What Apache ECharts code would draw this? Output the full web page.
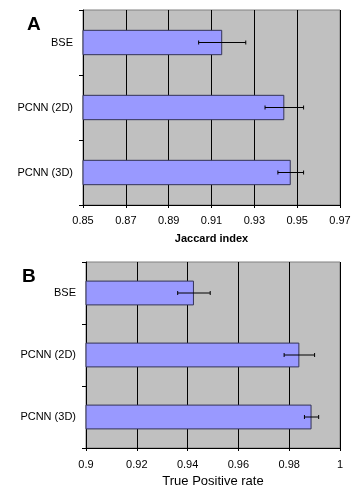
<!DOCTYPE html>
<html>
<head>
<meta charset="utf-8">
<script src="https://cdn.jsdelivr.net/npm/echarts@6/dist/echarts.min.js"></script>
<style>
  html, body { margin: 0; padding: 0; background: #fff; }
  #chart { width: 364px; height: 489px; }
</style>
</head>
<body>
<div id="chart"></div>
<script>
const categories = ['BSE', 'PCNN (2D)', 'PCNN (3D)']

// panel A: Jaccard index
const jaccardMean = [0.915, 0.944, 0.947]
const jaccardErr = [0.011, 0.009, 0.006]
const jaccardTicks = [0.85, 0.97, 0.02]

// panel B: True Positive rate
const tprMean = [0.9425, 0.984, 0.9888]
const tprErr = [0.0064, 0.006, 0.0028]
const tprTicks = [0.9, 1.0, 0.02]

const font = 'Liberation Sans, Arial, sans-serif'

function errorData(mean, err) {
  return mean.map((m, i) => [i, m - err[i], m + err[i]])
}

function renderError(params, api) {
  const cat = api.value(0)
  const lo = api.coord([api.value(1), cat])
  const hi = api.coord([api.value(2), cat])
  const cap = 2
  const style = { stroke: '#000', lineWidth: 1 }
  return {
    type: 'group',
    children: [
      { type: 'line', shape: { x1: lo[0], y1: lo[1], x2: hi[0], y2: hi[1] }, style },
      { type: 'line', shape: { x1: lo[0], y1: lo[1] - cap, x2: lo[0], y2: lo[1] + cap }, style },
      { type: 'line', shape: { x1: hi[0], y1: hi[1] - cap, x2: hi[0], y2: hi[1] + cap }, style }
    ]
  }
}

function valueAxis(idx, ticks, name, nameStyle, margin, gap) {
  return {
    type: 'value',
    gridIndex: idx,
    min: ticks[0],
    max: ticks[1],
    interval: ticks[2],
    name: name,
    nameLocation: 'middle',
    nameGap: gap,
    nameTextStyle: nameStyle,
    axisLine: { show: true, lineStyle: { color: '#000', width: 1 } },
    axisTick: { show: true, length: 3, lineStyle: { color: '#000' } },
    axisLabel: {
      color: '#000', fontFamily: font, fontSize: 11, margin: margin,
      formatter: v => String(Math.round(v * 100) / 100)
    },
    splitLine: { show: true, lineStyle: { color: '#000', width: 1 } }
  }
}

function catAxis(idx) {
  return {
    type: 'category',
    gridIndex: idx,
    data: categories,
    inverse: true,
    axisLine: { show: true, lineStyle: { color: '#000', width: 1 } },
    axisTick: { show: true, length: 4, lineStyle: { color: '#000' } },
    axisLabel: { color: '#000', fontFamily: font, fontSize: 11, margin: 10 }
  }
}

const barStyle = { color: '#9999FF', borderColor: '#333355', borderWidth: 1 }

const chart = echarts.init(document.getElementById('chart'))
chart.setOption({
  animation: false,
  backgroundColor: '#fff',
  title: [
    { text: 'A', left: 22, top: 10, textStyle: { fontFamily: font, fontSize: 19, fontWeight: 'bold', color: '#000' } },
    { text: 'B', left: 17, top: 262, textStyle: { fontFamily: font, fontSize: 19, fontWeight: 'bold', color: '#000' } }
  ],
  grid: [
    { left: 83, right: 24, top: 10, bottom: 284, show: true, backgroundColor: '#C0C0C0', borderColor: '#808080', borderWidth: 1 },
    { left: 86, right: 24, top: 262, bottom: 39, show: true, backgroundColor: '#C0C0C0', borderColor: '#808080', borderWidth: 1 }
  ],
  xAxis: [
    valueAxis(0, jaccardTicks, 'Jaccard index', { color: '#000', fontFamily: font, fontSize: 11, fontWeight: 'bold' }, 10, 28),
    valueAxis(1, tprTicks, 'True Positive rate', { color: '#000', fontFamily: font, fontSize: 13 }, 11, 27)
  ],
  yAxis: [catAxis(0), catAxis(1)],
  series: [
    { type: 'bar', xAxisIndex: 0, yAxisIndex: 0, data: jaccardMean, barWidth: '39%', itemStyle: barStyle },
    { type: 'custom', xAxisIndex: 0, yAxisIndex: 0, data: errorData(jaccardMean, jaccardErr), renderItem: renderError, encode: { x: [1, 2], y: 0 }, z: 5 },
    { type: 'bar', xAxisIndex: 1, yAxisIndex: 1, data: tprMean, barWidth: '40%', itemStyle: barStyle },
    { type: 'custom', xAxisIndex: 1, yAxisIndex: 1, data: errorData(tprMean, tprErr), renderItem: renderError, encode: { x: [1, 2], y: 0 }, z: 5 }
  ]
})
</script>
</body>
</html>
